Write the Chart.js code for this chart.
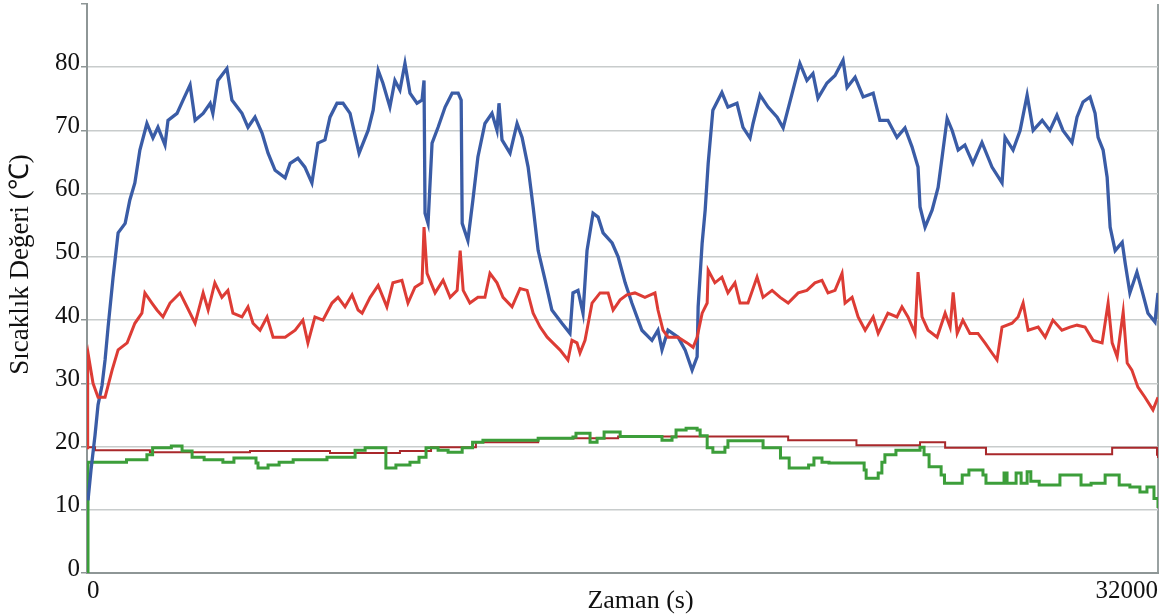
<!DOCTYPE html>
<html>
<head>
<meta charset="utf-8">
<script src="https://cdn.jsdelivr.net/npm/chart.js@4/dist/chart.umd.min.js"></script>
<style>
  html, body { margin: 0; padding: 0; background: #ffffff; }
  #wrap { width: 1176px; height: 616px; }
</style>
</head>
<body>
<div id="wrap"><canvas id="chart" width="1176" height="616"></canvas></div>
<script>
// Axis text
const xTitle = 'Zaman (s)';
const yTitle = 'Sıcaklık Değeri (℃)';
const xTickValues = [0, 32000];
const xTickLabels = ['0', '32000'];
const yTickValues = [0, 10, 20, 30, 40, 50, 60, 70, 80, 90];
const yTickLabels = ['0', '10', '20', '30', '40', '50', '60', '70', '80', ''];

// Series 1 (blue): time in seconds, temperature in °C
const series1Time = [30,120,240,330,450,540,630,780,930,1140,1280,1430,1580,1790,1970,2120,2330,2420,2690,2870,3080,3230,3470,3680,3760,3910,4180,4330,4630,4810,5020,5230,5410,5620,5920,6070,6300,6510,6720,6900,7110,7260,7470,7650,7860,8130,8400,8550,8700,8840,9050,9200,9350,9500,9650,9860,10010,10070,10100,10190,10310,10490,10700,10910,11090,11180,11210,11380,11530,11680,11890,12100,12250,12310,12400,12640,12850,13000,13180,13330,13480,13690,13890,14190,14430,14520,14670,14820,14940,15120,15270,15420,15690,15870,16080,16280,16580,16880,17060,17180,17360,17660,17870,18080,18230,18260,18380,18470,18560,18700,18970,19150,19420,19600,19810,19900,20110,20350,20620,20800,21070,21300,21510,21690,21840,22110,22350,22590,22710,22950,23190,23490,23690,23930,24200,24440,24650,24830,24890,25040,25250,25430,25550,25700,25850,26030,26230,26470,26740,27040,27340,27430,27670,27880,28090,28270,28540,28770,28980,29160,29430,29580,29760,29970,30120,30210,30360,30480,30570,30720,30930,31020,31160,31370,31520,31700,31910,32000];
const series1Temp = [11.5,16.3,21.8,26.6,29.7,33.7,38.9,46.8,53.8,55.3,59,61.7,66.9,71.1,68.8,70.5,67.7,71.6,72.7,74.8,77.2,71.6,72.7,74.3,72.7,77.9,79.8,74.8,72.7,70.5,72.1,69.6,66.4,63.7,62.5,64.8,65.6,64.2,61.7,68,68.5,72.1,74.3,74.3,72.7,66.4,70,73.2,79.5,77.5,73.7,77.9,76.4,80.6,75.9,74.3,74.8,77.9,56.9,55.3,68,70.5,73.7,75.9,75.9,74.8,55.3,52.6,59,65.8,71.1,72.7,70,74.3,68.5,66.4,71.1,68.9,64.2,57.9,51,46.3,41.6,39.5,37.9,44.3,44.7,41.1,51,56.9,56.3,53.8,52.2,50,45.9,42.7,38.4,36.8,38.4,35.3,38.4,37.3,35.3,32.1,34.2,42.1,52.2,57.4,64.8,73.2,76,73.7,74.3,70.5,68.8,71.1,75.6,73.7,72.1,70.4,75.9,80.6,77.9,79,75.1,77.5,78.7,81.1,76.8,78.4,75.3,75.9,71.6,71.6,68.9,70.4,67.4,64.2,57.9,54.7,57.4,61,65.8,71.9,70,66.9,67.7,64.8,68.1,64.2,61.7,68.9,66.9,70,75.6,70,71.6,70,72.4,70,68.1,72.1,74.5,75.3,72.7,68.9,66.9,62.6,54.7,51,52.3,49,44.3,47.6,44.7,41.1,39.7,44.3];

// Series 2 (red)
const series2Time = [0,20,30,180,330,540,750,930,1200,1430,1640,1730,1940,2090,2270,2480,2780,2930,3230,3470,3620,3820,4030,4210,4360,4630,4810,4960,5170,5380,5560,5920,6220,6450,6600,6810,7050,7320,7500,7710,7920,8100,8220,8460,8700,8960,9140,9410,9590,9800,10010,10070,10160,10400,10640,10850,11060,11150,11240,11440,11680,11890,12040,12250,12430,12700,12940,13150,13330,13540,13750,13920,14130,14370,14490,14640,14730,14880,15090,15330,15570,15720,15930,16130,16370,16670,16970,17060,17210,17360,17660,17930,18110,18230,18380,18530,18560,18760,18970,19150,19360,19510,19750,20020,20200,20470,20710,20950,21250,21510,21750,21960,22140,22350,22560,22650,22860,23040,23250,23490,23640,23930,24200,24350,24530,24740,24830,24950,25130,25400,25640,25790,25880,26000,26170,26380,26620,26830,27040,27190,27340,27640,27820,27970,28120,28420,28630,28860,29130,29370,29580,29820,30060,30330,30510,30630,30780,30960,31080,31220,31400,31610,31850,32000];
const series2Temp = [19.8,34.5,34.8,30,27.8,27.8,32.1,35.3,36.4,39.5,41.1,44.3,42.7,41.6,40.5,42.7,44.3,42.7,39.5,44.3,41.6,45.9,43.6,44.7,41.1,40.5,42.1,39.5,38.4,40.5,37.3,37.3,38.4,40,36.4,40.5,40,42.7,43.6,42.1,44,41.6,41.1,43.6,45.5,42.1,45.9,46.3,42.7,45.2,45.9,54.7,47.4,44.3,46.3,43.6,44.7,51,44.7,42.7,43.6,43.6,47.4,45.9,43.6,42.1,45,44.7,41.1,38.9,37.3,36.4,35.3,33.7,36.8,36.4,34.8,36.8,42.7,44.3,44.3,41.6,43.2,44,44.3,43.6,44.3,41.6,38.4,37.3,37.3,36.4,35.7,37.3,41.1,42.7,47.9,45.9,46.8,44.3,45.9,42.7,42.7,46.8,43.6,44.7,43.6,42.7,44.3,44.7,45.9,46.3,44.3,44.7,47.4,42.7,43.6,40.5,38.4,40.5,37.9,41.1,40.5,42.1,40.5,37.9,47.6,40.5,38.4,37.3,41.1,38.9,44.4,37.9,40,37.9,37.9,36.4,34.8,33.7,38.9,39.5,40.5,42.7,38.4,38.9,37.3,40,38.4,38.9,39.2,38.9,36.8,36.4,42.7,36.4,34.2,41.3,33.2,32.1,29.4,27.8,25.8,27.8];

// Series 3 (dark red), stepped levels
const series3Time = [0,240,1880,4870,7260,9350,10280,11620,13480,15870,20950,22990,24890,25640,26860,30630,31970,32000];
const series3Temp = [19.9,19.4,19.1,19.3,19.0,19.3,19.9,20.7,21.3,21.6,21.0,20.2,20.7,19.8,18.8,19.8,18.7,18.2];

// Series 4 (green), stepped levels
const series4Time = [0,30,1180,1790,1960,2520,2840,3140,3500,4060,4390,5050,5110,5410,5740,6160,7170,8010,8310,8930,9230,9650,9920,10130,10490,10790,11210,11520,11830,13480,14520,14610,15030,15240,15450,15930,17180,17480,17600,17900,18230,18320,18530,18700,19060,19150,20200,20720,20980,21560,21720,21960,22170,23220,23280,23640,23750,23840,24170,24890,25010,25160,25520,25620,26150,26350,26770,26860,27400,27490,27760,27910,28090,28200,28450,29070,29700,30000,30420,30840,31160,31460,31670,31880,32000];
const series4Temp = [0,17.5,17.9,18.7,19.8,20.1,19.3,18.3,17.9,17.5,18.2,17.4,16.6,17.1,17.5,17.9,18.3,19.4,19.8,16.6,17.1,17.5,18.3,19.8,19.4,19.1,19.8,20.7,21.0,21.3,21.5,22.1,20.7,21.3,22.3,21.6,21.0,21.5,22.6,22.9,22.6,21.7,19.8,19.1,19.9,20.9,19.8,18.2,16.6,17.1,18.2,17.5,17.4,16.3,15.0,15.8,17.5,18.7,19.4,19.9,18.7,16.8,15.5,14.2,15.5,16.3,15.5,14.2,15.8,14.2,15.8,14.2,16.0,14.5,13.9,15.5,13.9,14.2,15.5,13.9,13.6,12.8,13.6,11.8,10.3];

const toPoints = (ts, vs) => ts.map((t, i) => ({ x: t, y: vs[i] }));

Chart.defaults.font.family = '"Liberation Serif", "Times New Roman", serif';
Chart.defaults.color = '#111111';

// Axis titles drawn beside the plot area
const axisTitles = {
  id: 'axisTitles',
  afterDraw(chart) {
    const { ctx, chartArea } = chart;
    ctx.save();
    ctx.fillStyle = '#111111';
    ctx.textAlign = 'center';
    ctx.textBaseline = 'middle';
    ctx.font = '26px "Liberation Serif", serif';
    ctx.fillText(xTitle, (chartArea.left + chartArea.right) / 2 + 18, chartArea.bottom + 28);
    ctx.font = '27px "Liberation Serif", serif';
    ctx.translate(21, (chartArea.top + chartArea.bottom) / 2 - 24);
    ctx.rotate(-Math.PI / 2);
    ctx.fillText(yTitle, 0, 0);
    ctx.restore();
  }
};

const axisGrey = '#8e9696';

new Chart(document.getElementById('chart'), {
  type: 'line',
  data: {
    datasets: [
      { data: toPoints(series2Time, series2Temp), borderColor: '#dd3c35', borderWidth: 3 },
      { data: toPoints(series1Time, series1Temp), borderColor: '#3a5ca6', borderWidth: 3.3 },
      { data: toPoints(series4Time, series4Temp), borderColor: '#3c9e3a', borderWidth: 3, stepped: true },
      { data: toPoints(series3Time, series3Temp), borderColor: '#a9282b', borderWidth: 2, stepped: true }
    ]
  },
  options: {
    responsive: false,
    animation: false,
    devicePixelRatio: 1,
    layout: { padding: { top: 4, right: 18, bottom: 0, left: 0 } },
    elements: { point: { radius: 0 }, line: { tension: 0, borderJoinStyle: 'miter' } },
    plugins: { legend: { display: false }, tooltip: { enabled: false } },
    scales: {
      x: {
        type: 'linear', min: 0, max: 32000,
        afterBuildTicks: s => { s.ticks = xTickValues.map(v => ({ value: v })); },
        ticks: {
          callback: v => xTickLabels[xTickValues.indexOf(v)],
          align: 'inner', autoSkip: false, maxRotation: 0,
          font: { size: 25 }, color: '#111111', padding: 3
        },
        grid: {
          color: c => (c.tick && c.tick.value === 32000) ? '#9aa2a2' : 'transparent',
          lineWidth: 2, drawTicks: false
        },
        border: { color: axisGrey, width: 2 },
        afterFit: s => { s.height = 43; s.paddingLeft = 0; s.paddingRight = 0; }
      },
      y: {
        type: 'linear', min: 0, max: 90,
        afterBuildTicks: s => { s.ticks = yTickValues.map(v => ({ value: v })); },
        ticks: {
          callback: v => yTickLabels[yTickValues.indexOf(v)],
          font: { size: 25 }, color: '#111111', padding: 1, labelOffset: -4
        },
        grid: {
          color: c => (c.tick && c.tick.value > 0 && c.tick.value < 90) ? '#c8cccc' : 'transparent',
          lineWidth: 1.5, tickLength: 6, tickColor: axisGrey, tickWidth: 1.5
        },
        border: { color: axisGrey, width: 2 },
        afterFit: s => { s.width = 87; s.paddingTop = 0; s.paddingBottom = 0; }
      }
    }
  },
  plugins: [axisTitles]
});
</script>
</body>
</html>
